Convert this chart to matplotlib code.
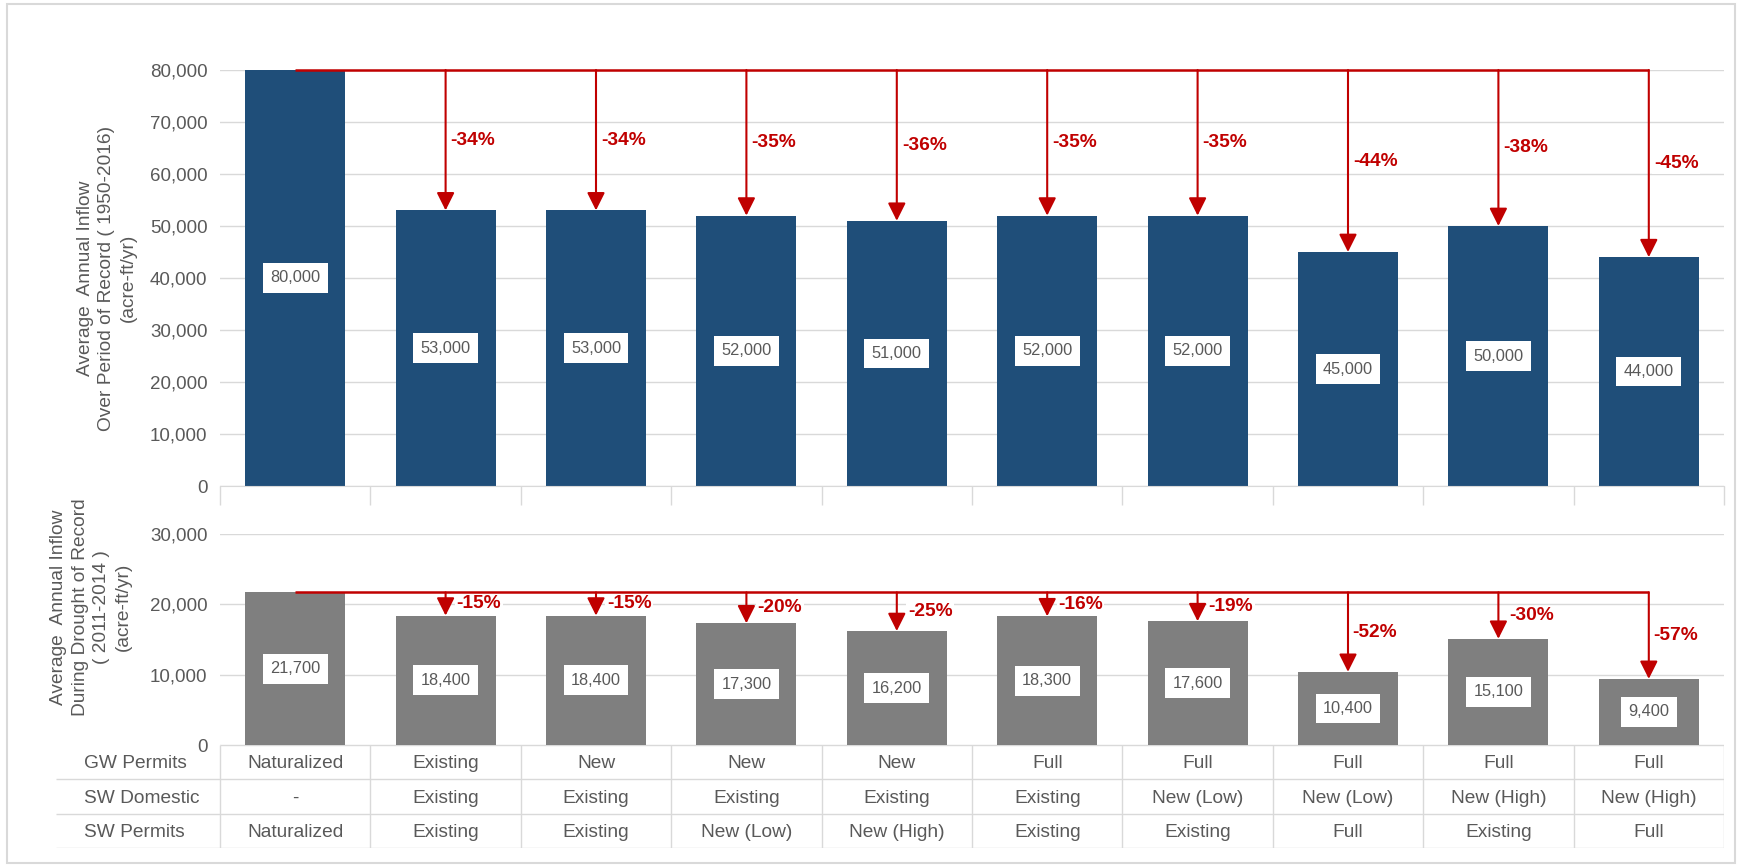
import numpy as np
import matplotlib
matplotlib.use("Agg")
import matplotlib.pyplot as plt
from matplotlib.patches import Rectangle

plt.rcParams['font.family'] = ['Liberation Sans', 'DejaVu Sans']

# scenario values (acre-ft/yr)
period_inflow = [80000, 53000, 53000, 52000, 51000, 52000, 52000, 45000, 50000, 44000]
drought_inflow = [21700, 18400, 18400, 17300, 16200, 18300, 17600, 10400, 15100, 9400]

row_names = ["GW Permits", "SW Domestic", "SW Permits"]
gw_permits = ["Naturalized", "Existing", "New", "New", "New", "Full", "Full", "Full", "Full", "Full"]
sw_domestic = ["-", "Existing", "Existing", "Existing", "Existing", "Existing",
               "New (Low)", "New (Low)", "New (High)", "New (High)"]
sw_permits = ["Naturalized", "Existing", "Existing", "New (Low)", "New (High)", "Existing",
              "Existing", "Full", "Existing", "Full"]

BLUE = "#1F4E79"
GREY_BAR = "#7F7F7F"
RED = "#C00000"
TXT = "#595959"
LINE = "#D9D9D9"

W, H = 1737, 865
fig = plt.figure(figsize=(W / 100, H / 100), dpi=100)


def box(left, top, right, bottom):
    return [left / W, 1 - bottom / H, (right - left) / W, (bottom - top) / H]


ax1 = fig.add_axes(box(220, 70, 1724, 486))
ax2 = fig.add_axes(box(220, 534, 1724, 745))
tab = fig.add_axes(box(56, 745, 1724, 848))

# outer border
fig.patches.append(Rectangle((7 / W, 2 / H), 1728 / W, 859 / H, transform=fig.transFigure,
                             fill=False, edgecolor=LINE, lw=1.5))

x = np.arange(len(period_inflow))


def draw_panel(ax, values, color, ymax, step, near_off, far_off):
    ax.bar(x, values, width=0.665, color=color, zorder=2)
    ax.set_xlim(-0.5, len(values) - 0.5)
    ax.set_ylim(0, ymax)
    ax.set_yticks(np.arange(0, ymax + 1, step))
    ax.yaxis.set_major_formatter(matplotlib.ticker.StrMethodFormatter("{x:,.0f}"))
    ax.tick_params(axis='y', length=0, pad=9, labelsize=13.5, labelcolor=TXT)
    ax.set_xticks([])
    ax.grid(axis='y', color=LINE, lw=1)
    ax.set_axisbelow(True)
    for s in ax.spines.values():
        s.set_visible(False)

    # value labels in the middle of each bar
    for i, v in enumerate(values):
        ax.text(i, v / 2, f"{v:,}", ha='center', va='center', fontsize=11.8, color=TXT, zorder=4,
                bbox=dict(boxstyle='square,pad=0.45', fc='white', ec='none'))

    # red reference line from the naturalized bar, arrows down to each scenario
    base = values[0]
    px_per_unit = ax.bbox.height / ymax
    ax.plot([0, len(values) - 1], [base, base], color=RED, lw=1.8, zorder=5,
            clip_on=False, solid_capstyle='butt')
    for i, v in enumerate(values[1:], start=1):
        ax.annotate('', xy=(i, v), xytext=(i, base),
                    arrowprops=dict(arrowstyle='-|>,head_length=1.0,head_width=0.5',
                                    mutation_scale=10.8, color=RED, lw=1.5,
                                    shrinkA=0, shrinkB=0), zorder=5, annotation_clip=False)
        pct = round((v - base) / base * 100)
        length_px = (base - v) * px_per_unit
        off = near_off if length_px < 50 else far_off
        ax.annotate(f"{pct}%", xy=(i, (base + v) / 2), xytext=(off * 0.72, 0),
                    textcoords='offset points', ha='left', va='center',
                    fontsize=13.8, fontweight='bold', color=RED, zorder=6,
                    bbox=dict(boxstyle='square,pad=0.08', fc='white', ec='none'))


draw_panel(ax1, period_inflow, BLUE, 80000, 10000, 5, 5)
draw_panel(ax2, drought_inflow, GREY_BAR, 30000, 10000, 11, 4)

# category separators under the top panel
ax1.spines['bottom'].set_visible(True)
ax1.spines['bottom'].set_color(LINE)
ax1.vlines(np.arange(-0.5, len(x)), -19 / ax1.bbox.height, 0, transform=ax1.get_xaxis_transform(),
           color=LINE, lw=1, clip_on=False)

# scenario table
cat_px = 1504 / len(x)
tab_left = -0.5 - (220 - 56) / cat_px
tab.set_xlim(tab_left, len(x) - 0.5)
tab.set_ylim(3, 0)
tab.axis('off')
tab.hlines([1, 2, 3], tab_left, len(x) - 0.5, color=LINE, lw=1)
tab.hlines(0, -0.5, len(x) - 0.5, color=LINE, lw=1)
tab.vlines(np.arange(-0.5, len(x)), 0, 3, color=LINE, lw=1)
label_x = -0.5 - (220 - 84) / cat_px
for r, (name, row) in enumerate(zip(row_names, [gw_permits, sw_domestic, sw_permits])):
    yc = r + 0.55
    tab.text(label_x, yc, name, ha='left', va='center', fontsize=13.8, color=TXT)
    for i, val in enumerate(row):
        tab.text(i, yc, val, ha='center', va='center', fontsize=13.8, color=TXT)

# axis titles
fig.text(107 / W, 1 - 278 / H,
         "Average  Annual Inflow\nOver Period of Record ( 1950-2016)\n(acre-ft/yr)",
         rotation=90, ha='center', va='center', multialignment='center',
         fontsize=13.8, color=TXT, linespacing=1.35)
fig.text(91 / W, 1 - 607 / H,
         "Average  Annual Inflow\nDuring Drought of Record\n( 2011-2014 )\n(acre-ft/yr)",
         rotation=90, ha='center', va='center', multialignment='center',
         fontsize=13.8, color=TXT, linespacing=1.35)

fig.savefig("out.png", dpi=100, facecolor='white')
